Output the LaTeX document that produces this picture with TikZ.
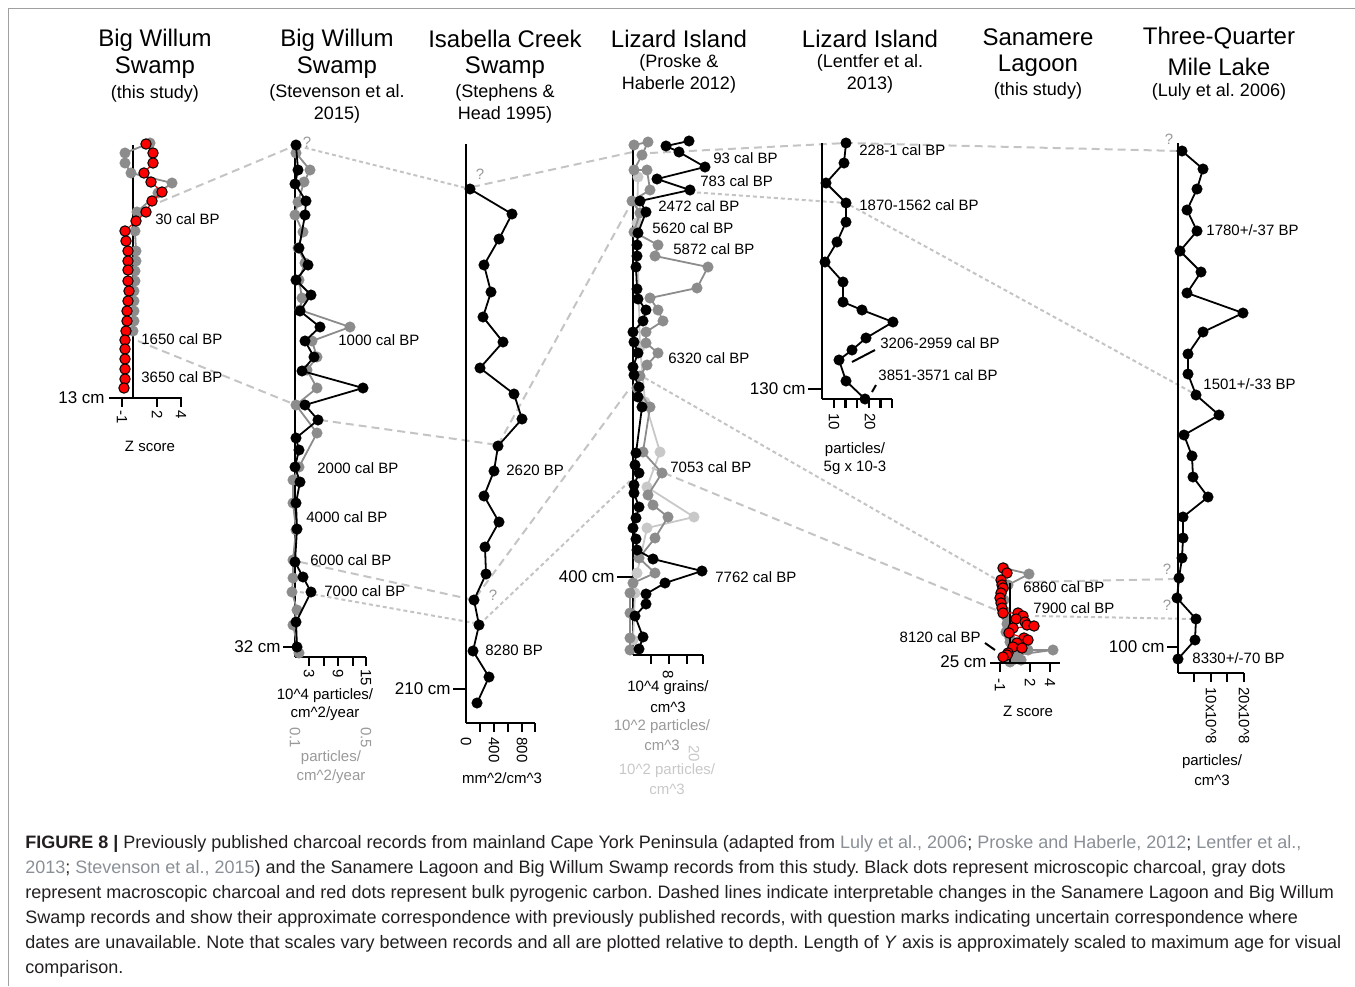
\documentclass[tikz,border=0pt]{standalone}
\usepackage{fontspec}
\setmainfont{Liberation Sans}
\definecolor{gdot}{HTML}{8C8C8C}
\definecolor{lgdot}{HTML}{C8C8C8}
\definecolor{dashc}{HTML}{C4C4C4}
\definecolor{qm}{HTML}{999999}
\definecolor{captxt}{HTML}{231F20}
\definecolor{capref}{HTML}{8A8F96}
\definecolor{framec}{HTML}{A0A0A0}
\frenchspacing
\begin{document}
\begin{tikzpicture}[x=0.5pt,y=-0.5pt,
  ax/.style={line width=1.2pt,black},
  bl/.style={line width=0.9pt,black,mark=*,mark size=2.6pt,mark options={fill=black,draw=black,line width=0.3pt}},
  gl/.style={line width=0.9pt,gdot,mark=*,mark size=2.6pt,mark options={fill=gdot,draw=gdot,line width=0.3pt}},
  lgl/.style={line width=0.9pt,lgdot,mark=*,mark size=2.6pt,mark options={fill=lgdot,draw=lgdot,line width=0.3pt}},
  rl/.style={line width=0.6pt,red,mark=*,mark size=2.6pt,mark options={fill=red,draw=black,line width=0.5pt}},
  corr/.style={line width=1pt,dashc,dash pattern=on 4pt off 2.5pt},
  corrf/.style={line width=1pt,dashc,dash pattern=on 2pt off 1.5pt},
  ttl/.style={font=\fontsize{12}{14}\selectfont,inner sep=0},
  sub/.style={font=\fontsize{9}{11}\selectfont,inner sep=0},
  lab/.style={font=\fontsize{7.5}{9}\selectfont,anchor=west,inner sep=0},
  unit/.style={font=\fontsize{7.5}{9}\selectfont,inner sep=0},
  depth/.style={font=\fontsize{8.5}{10}\selectfont,anchor=east,inner sep=0},
  tklab/.style={font=\fontsize{7.5}{9}\selectfont,rotate=-90,anchor=west,inner sep=0},
  qmark/.style={font=\fontsize{7.5}{9}\selectfont,text=qm,inner sep=0},
  captext/.style={font=\fontsize{9}{11}\selectfont,text=captxt,anchor=west,inner sep=0}
]
\useasboundingbox (0,0) rectangle (1355,986);
% frame
\draw[framec,line width=0.5pt] (8,986) -- (8,8) -- (1355,8);

% titles
\node[ttl] (t1a) at (155,40) {Big Willum};
\node[ttl] (t1b) at (155,68) {Swamp};
\node[sub] (t1c) at (155,94) {(this study)};
\node[ttl] (t2a) at (337,40) {Big Willum};
\node[ttl] (t2b) at (337,68) {Swamp};
\node[sub] (t2c) at (337,93) {(Stevenson et al.};
\node[sub] (t2d) at (337,115) {2015)};
\node[ttl] (t3a) at (505,39) {Isabella Creek};
\node[ttl] (t3b) at (505,68) {Swamp};
\node[sub] (t3c) at (505,93) {(Stephens \&};
\node[sub] (t3d) at (505,115) {Head 1995)};
\node[ttl] (t4a) at (679,39) {Lizard Island};
\node[sub] (t4b) at (679,63) {(Proske \&};
\node[sub] (t4c) at (679,85) {Haberle 2012)};
\node[ttl] (t5a) at (870,39) {Lizard Island};
\node[sub] (t5b) at (870,63) {(Lentfer et al.};
\node[sub] (t5c) at (870,85) {2013)};
\node[ttl] (t6a) at (1038,37) {Sanamere};
\node[ttl] (t6b) at (1038,66) {Lagoon};
\node[sub] (t6c) at (1038,91) {(this study)};
\node[ttl] (t7a) at (1219,38) {Three-Quarter};
\node[ttl] (t7b) at (1219,67) {Mile Lake};
\node[sub] (t7c) at (1219,92) {(Luly et al. 2006)};

% correlation lines
\draw[corr] (160,202) -- (294,146);
\draw[corr] (138,341) -- (296,405);
\draw[corrf] (298,146) -- (470,189);
\draw[corr] (320,420) -- (498,445);
\draw[corr] (300,562) -- (474,600);
\draw[corrf] (300,592) -- (480,624);
\draw[corr] (472,187) -- (633,152);
\draw[corr] (498,445) -- (633,200);
\draw[corr] (476,597) -- (630,388);
\draw[corrf] (480,624) -- (633,478);
\draw[corr] (650,153) -- (846,143) -- (1180,151);
\draw[corrf] (690,192) -- (846,203) -- (1193,393);
\draw[corrf] (645,378) -- (1001,582);
\draw[corr] (652,468) -- (1001,612);
\draw[corr] (1025,582) -- (1178,579);
\draw[corrf] (1035,616) -- (1196,619);

% ---------- column 1: Big Willum Swamp (this study)
\draw[ax] (133,145) -- (133,398);
\draw[ax] (109,398) -- (182,398);
\foreach \tx in {122,157,181} \draw[ax] (\tx,398) -- (\tx,407);
\node[depth] (d1) at (105,398) {13 cm};
\node[tklab] (k1a) at (122,410) {-1};
\node[tklab] (k1b) at (157,410) {2};
\node[tklab] (k1c) at (181,410) {4};
\node[unit] (u1) at (150,446) {Z score};
\draw[gl] plot coordinates {(150,143) (125,153) (125,163) (131,173) (172,183) (158,193) (137,212) (135,231) (136,251) (136,261) (135,271) (135,281) (134,291) (134,301) (134,311) (134,321) (133,331)};
\draw[rl] plot coordinates {(146,144) (153,153) (153,163) (144,173) (151,182) (162,192) (152,201) (146,212) (136,221) (125,231) (126,241) (128,251) (128,261) (128,270) (128,281) (129,291) (128,301) (127,311) (127,321) (126,331) (125,340) (125,349) (125,359) (125,369) (125,379) (124,388)};
\node[lab] (l1a) at (155,219) {30 cal BP};
\node[lab] (l1b) at (141,339) {1650 cal BP};
\node[lab] (l1c) at (141,377) {3650 cal BP};

% ---------- column 2: Big Willum Swamp (Stevenson)
\draw[ax] (295,145) -- (295,657);
\draw[ax] (295,657) -- (366,657);
\draw[ax] (283,647) -- (295,647);
\foreach \tx in {309,324,338,353,366} \draw[ax] (\tx,657) -- (\tx,666);
\node[depth] (d2) at (281,647) {32 cm};
\node[tklab] (k2a) at (309,669) {3};
\node[tklab] (k2b) at (338,669) {9};
\node[tklab] (k2c) at (366,669) {15};
\node[unit] (u2a) at (325,696) {10\^{}4 particles/};
\node[unit] (u2b) at (325,714) {cm\^{}2/year};
\node[tklab,text=qm] (k2d) at (295,727) {0.1};
\node[tklab,text=qm] (k2e) at (366,727) {0.5};
\node[unit,text=qm] (u2c) at (331,758) {particles/};
\node[unit,text=qm] (u2d) at (331,777) {cm\^{}2/year};
\draw[gl] plot coordinates {(296,153) (310,170) (304,182) (298,202) (295,215) (303,232) (298,248) (305,263) (299,280) (302,298) (300,310) (350,327) (312,341) (317,357) (307,370) (317,388) (296,405) (317,433) (299,467) (293,480) (293,503) (296,530) (293,560) (293,578) (292,592) (297,610) (293,625) (299,653)};
\draw[bl] plot coordinates {(296,145) (298,170) (295,184) (306,201) (305,215) (299,248) (308,265) (296,280) (311,295) (300,311) (320,327) (305,341) (314,357) (302,371) (363,388) (305,405) (318,420) (296,438) (299,450) (295,467) (300,482) (296,503) (297,529) (295,562) (303,577) (311,592) (296,622) (297,647)};
\node[qmark] (q2) at (307,142) {?};
\node[lab] (l2a) at (338,340) {1000 cal BP};
\node[lab] (l2b) at (317,468) {2000 cal BP};
\node[lab] (l2c) at (306,517) {4000 cal BP};
\node[lab] (l2d) at (310,560) {6000 cal BP};
\node[lab] (l2e) at (324,591) {7000 cal BP};

% ---------- column 3: Isabella Creek Swamp
\draw[ax] (466,144) -- (466,723);
\draw[ax] (466,723) -- (535,723);
\draw[ax] (453,689) -- (466,689);
\foreach \tx in {480,494,508,522,535} \draw[ax] (\tx,723) -- (\tx,732);
\node[depth] (d3) at (451,689) {210 cm};
\node[tklab] (k3a) at (466,737) {0};
\node[tklab] (k3b) at (494,737) {400};
\node[tklab] (k3c) at (522,737) {800};
\node[unit] (u3) at (502,778) {mm\^{}2/cm\^{}3};
\draw[bl] plot coordinates {(470,189) (512,214) (499,239) (484,265) (491,292) (483,317) (503,342) (480,368) (514,394) (522,419) (498,446) (494,471) (484,496) (499,522) (485,547) (486,574) (474,600) (479,625) (473,651) (489,677) (477,703)};
\node[qmark] (q3a) at (480,174) {?};
\node[qmark] (q3b) at (493,595) {?};
\node[lab] (l3a) at (506,470) {2620 BP};
\node[lab] (l3b) at (485,650) {8280 BP};

% ---------- column 4: Lizard Island (Proske)
\draw[ax] (633,142) -- (633,655);
\draw[ax] (633,655) -- (703,655);
\draw[ax] (617,577) -- (633,577);
\foreach \tx in {651,669,687,703} \draw[ax] (\tx,655) -- (\tx,664);
\node[depth] (d4) at (615,577) {400 cm};
\node[tklab] (k4a) at (668,670) {8};
\node[unit] (u4a) at (668,688) {10\^{}4 grains/};
\node[unit] (u4b) at (668,707) {cm\^{}3};
\node[unit,text=qm] (u4c) at (662,727) {10\^{}2 particles/};
\node[unit,text=qm] (u4d) at (662,745) {cm\^{}3};
\node[tklab,text=lgdot] (k4b) at (694,745) {20};
\node[unit,text=lgdot] (u4e) at (667,771) {10\^{}2 particles/};
\node[unit,text=lgdot] (u4f) at (667,789) {cm\^{}3};
\draw[lgl] plot coordinates {(638,177) (637,223) (640,347) (645,402) (660,452) (647,487) (694,517) (647,528) (637,573) (635,593) (633,640)};
\draw[gl] plot coordinates {(634,145) (648,142) (642,155) (634,170) (647,170) (650,190) (632,201) (640,213) (634,232) (658,245) (655,256) (708,267) (697,288) (650,298) (658,310) (663,321) (646,332) (646,343) (658,353) (647,365) (640,376) (637,388) (650,407) (643,452) (662,473) (648,495) (653,505) (668,517) (655,538) (639,558) (655,573) (633,583) (630,593) (630,613) (630,638) (630,650)};
\draw[bl] plot coordinates {(689,141) (666,146) (679,152) (705,167) (657,179) (690,190) (640,201) (646,212) (638,233) (637,245) (637,256) (636,267) (637,289) (638,299) (646,310) (643,321) (633,332) (634,342) (638,353) (633,367) (634,375) (639,387) (638,397) (642,407) (636,453) (635,465) (639,473) (634,485) (634,493) (639,507) (636,518) (633,528) (636,539) (637,550) (653,559) (702,571) (665,583) (646,594) (646,604) (635,616) (643,637) (639,649)};
\node[lab] (l4a) at (713,158) {93 cal BP};
\node[lab] (l4b) at (700,181) {783 cal BP};
\node[lab] (l4c) at (658,206) {2472 cal BP};
\node[lab] (l4d) at (652,228) {5620 cal BP};
\node[lab] (l4e) at (673,249) {5872 cal BP};
\node[lab] (l4f) at (668,358) {6320 cal BP};
\node[lab] (l4g) at (670,467) {7053 cal BP};
\node[lab] (l4h) at (715,577) {7762 cal BP};

% ---------- column 5: Lizard Island (Lentfer)
\draw[ax] (822,143) -- (822,399);
\draw[ax] (822,399) -- (892,399);
\draw[ax] (808,389) -- (822,389);
\foreach \tx in {833.7,845.3,857,868.7,880.3,892} \draw[ax] (\tx,399) -- (\tx,408);
\node[depth] (d5) at (806,389) {130 cm};
\node[tklab] (k5a) at (834,413) {10};
\node[tklab] (k5b) at (870,413) {20};
\node[unit] (u5a) at (855,450) {particles/};
\node[unit] (u5b) at (855,468) {5g x 10-3};
\draw[bl] plot coordinates {(846,143) (844,163) (826,183) (846,203) (846,222) (837,242) (825,262) (843,282) (843,302) (862,310) (893,322) (866,338) (852,350) (839,360) (846,381) (865,399)};
\draw[line width=1pt] (875,350) -- (852,362);
\draw[line width=1pt] (876,385) -- (872,392);
\node[lab] (l5a) at (859,150) {228-1 cal BP};
\node[lab] (l5b) at (859,205) {1870-1562 cal BP};
\node[lab] (l5c) at (880,343) {3206-2959 cal BP};
\node[lab] (l5d) at (878,375) {3851-3571 cal BP};

% ---------- column 6: Sanamere Lagoon
\draw[gl] plot coordinates {(1004,568) (1029,574) (1008,585) (1004,600) (1006,612) (1008,622) (1006,632) (1010,642) (1028,650) (1053,650) (1015,655) (1010,662)};
\foreach \g in {(1006,616),(1007,624),(1009,631),(1010,638),(1012,645),(1013,652),(1015,659),(1021,660)}
  \fill[gdot] \g circle[radius=2.8pt];
\draw[ax] (1010,583) -- (1010,663);
\draw[ax] (990,663) -- (1060,663);
\foreach \tx in {1000,1030,1050} \draw[ax] (\tx,663) -- (\tx,672);
\node[depth] (d6) at (987,662) {25 cm};
\node[tklab] (k6a) at (1000,678) {-1};
\node[tklab] (k6b) at (1030,678) {2};
\node[tklab] (k6c) at (1050,678) {4};
\node[unit] (u6) at (1028,711) {Z score};
\draw[rl] plot coordinates {(1003,568) (1007,573) (1001,580) (1002,585) (1003,588) (1001,593) (1000,598) (1001,603) (1002,608) (1003,613) (1018,613) (1023,616) (1016,619) (1025,622) (1027,625) (1034,626) (1013,628) (1009,633) (1024,638) (1028,640) (1017,643) (1013,647) (1022,648) (1008,653) (1007,655) (1003,657)};
\draw[line width=1pt] (985,643) -- (995,650);
\node[lab] (l6a) at (1023,587) {6860 cal BP};
\node[lab] (l6b) at (1033,608) {7900 cal BP};
\node[lab,anchor=east] (l6c) at (981,637) {8120 cal BP};

% ---------- column 7: Three-Quarter Mile Lake
\draw[ax] (1178,143) -- (1178,673);
\draw[ax] (1178,673) -- (1244,673);
\draw[ax] (1167,647) -- (1178,647);
\foreach \tx in {1194,1211,1227,1244} \draw[ax] (\tx,673) -- (\tx,682);
\node[depth] (d7) at (1165,647) {100 cm};
\node[tklab] (k7a) at (1211,687) {10x10\^{}8};
\node[tklab] (k7b) at (1244,687) {20x10\^{}8};
\node[unit] (u7a) at (1212,762) {particles/};
\node[unit] (u7b) at (1212,780) {cm\^{}3};
\draw[bl] plot coordinates {(1182,151) (1203,169) (1197,189) (1187,210) (1197,231) (1180,251) (1201,272) (1187,293) (1243,313) (1203,332) (1188,354) (1188,374) (1196,395) (1219,415) (1184,435) (1192,456) (1193,477) (1208,497) (1183,517) (1183,538) (1182,558) (1179,578) (1177,598) (1196,619) (1195,640) (1178,659)};
\node[qmark] (q7a) at (1169,139) {?};
\node[qmark] (q7b) at (1167,569) {?};
\node[qmark] (q7c) at (1167,605) {?};
\node[lab] (l7a) at (1206,230) {1780+/-37 BP};
\node[lab] (l7b) at (1203,384) {1501+/-33 BP};
\node[lab] (l7c) at (1192,658) {8330+/-70 BP};

% ---------- caption
\node[captext] (c1) at (25,844) {\textbf{FIGURE 8 |} Previously published charcoal records from mainland Cape York Peninsula (adapted from \textcolor{capref}{Luly et al., 2006}; \textcolor{capref}{Proske and Haberle, 2012}; \textcolor{capref}{Lentfer et al.,}};
\node[captext] (c2) at (25,869) {\textcolor{capref}{2013}; \textcolor{capref}{Stevenson et al., 2015}) and the Sanamere Lagoon and Big Willum Swamp records from this study. Black dots represent microscopic charcoal, gray dots};
\node[captext] (c3) at (25,894) {represent macroscopic charcoal and red dots represent bulk pyrogenic carbon. Dashed lines indicate interpretable changes in the Sanamere Lagoon and Big Willum};
\node[captext] (c4) at (25,919) {Swamp records and show their approximate correspondence with previously published records, with question marks indicating uncertain correspondence where};
\node[captext] (c5) at (25,944) {dates are unavailable. Note that scales vary between records and all are plotted relative to depth. Length of \textit{Y} axis is approximately scaled to maximum age for visual};
\node[captext] (c6) at (25,969) {comparison.};
\end{tikzpicture}
\end{document}
